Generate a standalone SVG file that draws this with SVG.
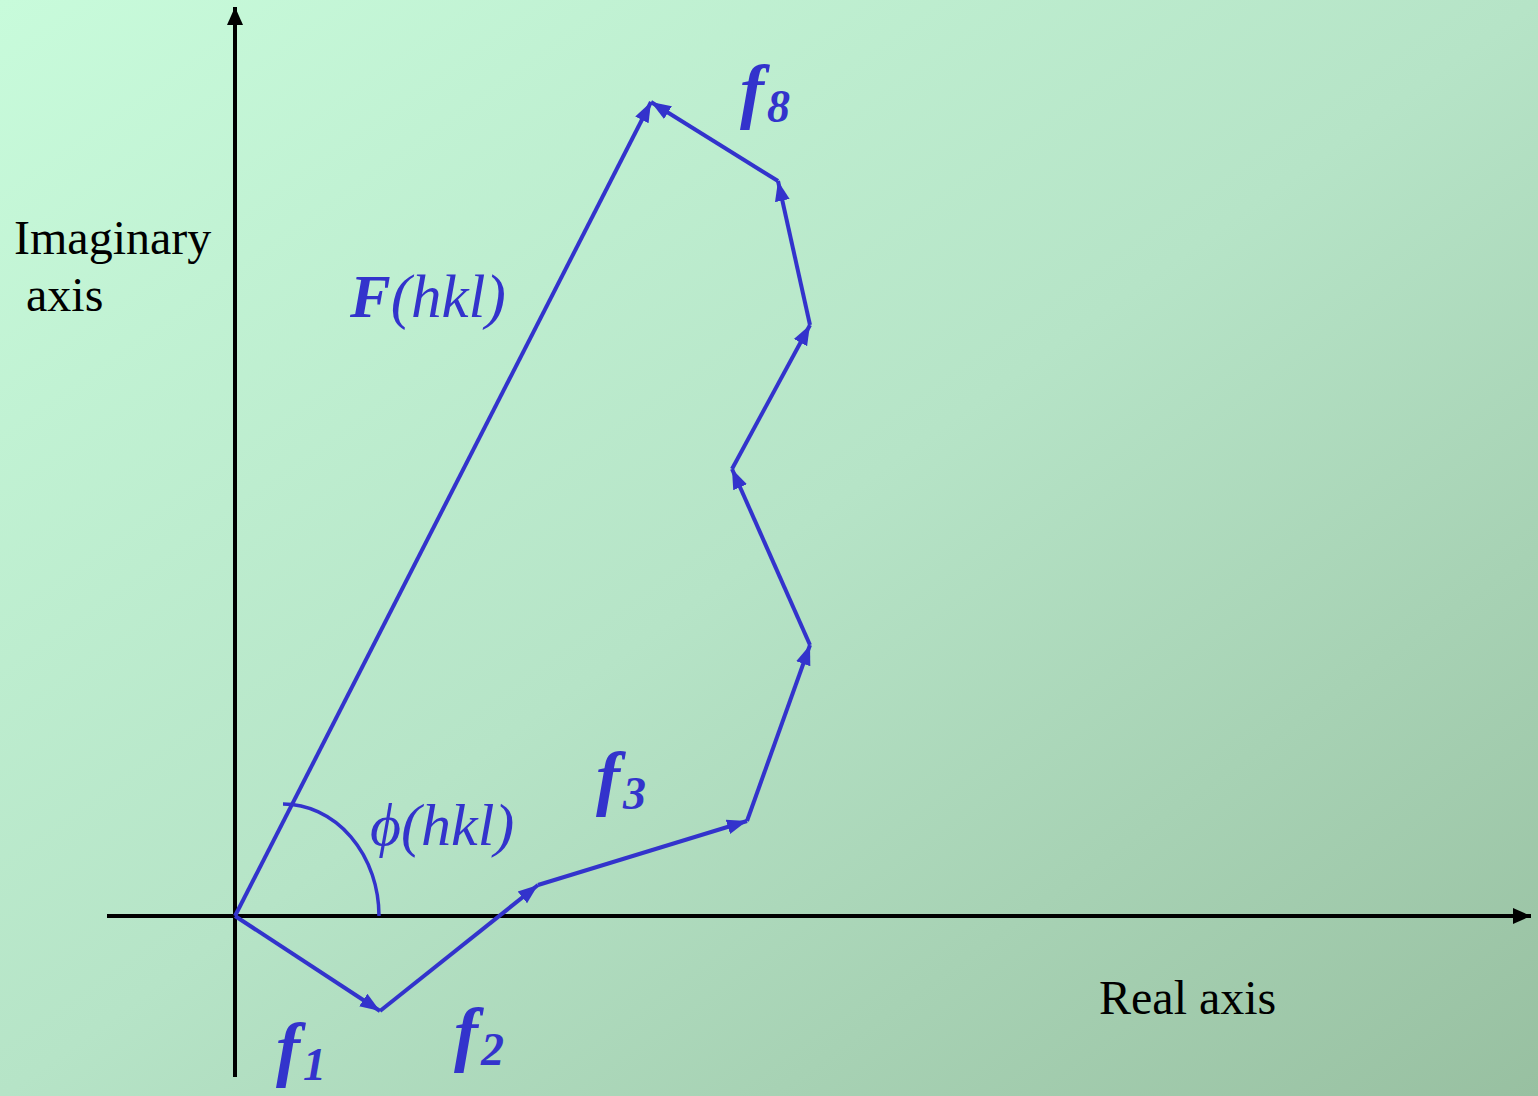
<svg xmlns="http://www.w3.org/2000/svg" width="1538" height="1096" viewBox="0 0 1538 1096">
<defs>
<linearGradient id="bg" x1="0" y1="0" x2="1" y2="1">
<stop offset="0" stop-color="#c8fbdb"/>
<stop offset="0.5" stop-color="#b6e4c7"/>
<stop offset="1" stop-color="#98c0a1"/>
</linearGradient>
<marker id="ab" markerUnits="userSpaceOnUse" markerWidth="22" markerHeight="18" viewBox="0 0 22 18" refX="20" refY="9" orient="auto">
<path d="M0 1.5 L20 9 L0 16.5 Z" fill="#3333cc"/>
</marker>
<marker id="ak" markerUnits="userSpaceOnUse" markerWidth="20" markerHeight="18" viewBox="0 0 20 18" refX="18" refY="9" orient="auto">
<path d="M0 1 L18 9 L0 17 Z" fill="#000"/>
</marker>
</defs>
<style>
.ax{stroke:#000;stroke-width:4;fill:none}
.v{stroke:#3333cc;stroke-width:4;fill:none;marker-end:url(#ab)}
.lab{font-family:"Liberation Serif",serif;font-size:48px;fill:#000}
.bl{font-family:"Liberation Serif",serif;fill:#3333cc;font-style:italic}
.sub{font-size:46px}
</style>
<rect width="1538" height="1096" fill="url(#bg)"/>
<g id="axes">
<line class="ax" x1="235" y1="1077" x2="235" y2="7" marker-end="url(#ak)"/>
<line class="ax" x1="107" y1="916" x2="1531" y2="916" marker-end="url(#ak)"/>
</g>
<g id="connectors">
<line class="v" x1="235" y1="916" x2="380" y2="1011"/>
<line class="v" x1="380" y1="1011" x2="538" y2="885"/>
<line class="v" x1="538" y1="885" x2="747" y2="821"/>
<line class="v" x1="747" y1="821" x2="810" y2="645"/>
<line class="v" x1="810" y1="645" x2="732" y2="469"/>
<line class="v" x1="732" y1="469" x2="810" y2="325"/>
<line class="v" x1="810" y1="325" x2="778" y2="181"/>
<line class="v" x1="778" y1="181" x2="651" y2="102"/>
<line class="v" x1="235" y1="916" x2="651" y2="102"/>
<path d="M283 804 A96 112 0 0 1 379 916" stroke="#3333cc" stroke-width="3.5" fill="none"/>
</g>
<g id="labels">
<text class="lab" x="14" y="254">Imaginary</text>
<text class="lab" x="26" y="311">axis</text>
<text class="lab" x="1099" y="1014">Real axis</text>
<text class="bl" x="350" y="317" font-size="61"><tspan font-weight="bold">F</tspan>(hkl)</text>
<text class="bl" x="370" y="845" font-size="60">ϕ(hkl)</text>
<text class="bl" x="740" y="115" font-size="72" font-weight="bold">f<tspan class="sub" dx="3" dy="7">8</tspan></text>
<text class="bl" x="596" y="802" font-size="72" font-weight="bold">f<tspan class="sub" dx="3" dy="7">3</tspan></text>
<text class="bl" x="276" y="1073" font-size="72" font-weight="bold">f<tspan class="sub" dx="3" dy="7">1</tspan></text>
<text class="bl" x="454" y="1058" font-size="72" font-weight="bold">f<tspan class="sub" dx="3" dy="7">2</tspan></text>
</g>
</svg>
